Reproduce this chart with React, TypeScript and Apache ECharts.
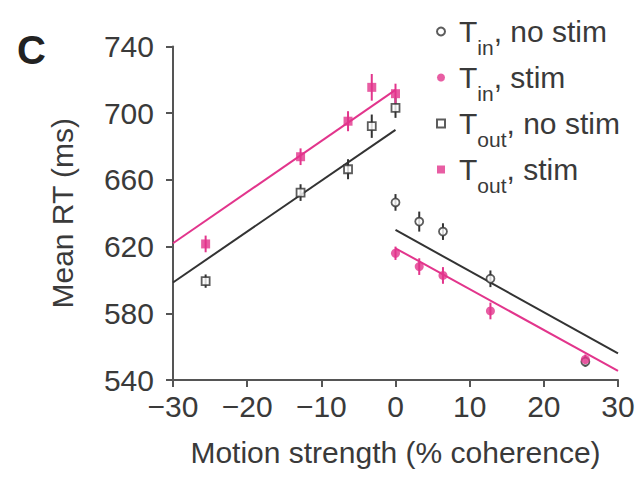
import { useEffect, useRef } from 'react';
import * as echarts from 'echarts';

// Motion strength (% coherence)
const coherenceOut = [-25.6, -12.8, -6.4, -3.2, 0];
const coherenceIn = [0, 3.2, 6.4, 12.8, 25.6];

// Mean RT (ms) and error bars (ms)
const toutNoStim = [599.3, 652.4, 666.4, 692.2, 703.2];
const toutNoStimErr = [4, 5, 6, 7, 6];
const toutStim = [621.6, 673.9, 695.2, 715.5, 711.7];
const toutStimErr = [5, 5, 6, 8, 6];
const tinNoStim = [646.5, 635, 629, 600.7, 551];
const tinNoStimErr = [5, 6, 5, 5, 3];
const tinStim = [616, 608, 602.7, 581.4, 552.3];
const tinStimErr = [4, 5, 5, 5, 3];

// Regression fits
const fitOutX = [-30, 0];
const fitOutNoStimY = [598.5, 690];
const fitOutStimY = [622, 714];
const fitInX = [0, 30];
const fitInNoStimY = [630, 556];
const fitInStimY = [619, 545.5];

const xTicks = { min: -30, max: 30, interval: 10 };
const yTicks = { min: 540, max: 740, interval: 40 };

const seriesNames = ['Tin, no stim', 'Tin, stim', 'Tout, no stim', 'Tout, stim'];
const legendLabels: Record<string, string> = {
  'Tin, no stim': '{t|T}{s|in}{u|, no stim}',
  'Tin, stim': '{t|T}{s|in}{u|, stim}',
  'Tout, no stim': '{t|T}{s|out}{u|, no stim}',
  'Tout, stim': '{t|T}{s|out}{u|, stim}',
};

const BLACK = '#333333';
const MAGENTA = '#e2358c';
const FONT = '"Liberation Sans", Arial, Helvetica, sans-serif';

const pairs = (xs: number[], ys: number[]) => xs.map((x, i) => [x, ys[i]]);
const errPairs = (xs: number[], ys: number[], es: number[]) =>
  xs.map((x, i) => [x, ys[i] - es[i], ys[i] + es[i]]);

function errorSeries(data: number[][], color: string) {
  return {
    type: 'custom',
    silent: true,
    z: 3,
    encode: { x: 0, y: [1, 2] },
    data,
    renderItem: (_params: any, api: any) => {
      const x = api.value(0);
      const p1 = api.coord([x, api.value(1)]);
      const p2 = api.coord([x, api.value(2)]);
      return {
        type: 'line',
        shape: { x1: p1[0], y1: p1[1], x2: p2[0], y2: p2[1] },
        style: { stroke: color, lineWidth: 2 },
      };
    },
  };
}

function fitSeries(name: string, xs: number[], ys: number[], color: string) {
  return {
    name,
    type: 'line',
    data: pairs(xs, ys),
    symbol: 'none',
    silent: true,
    z: 2,
    lineStyle: { color, width: 2 },
  };
}

export default function App() {
  const ref = useRef<HTMLDivElement>(null);

  useEffect(() => {
    if (!ref.current) return;
    const chart = echarts.init(ref.current, null, { renderer: 'svg' });
    const fmt = (v: number) => (v < 0 ? '\u2212' + Math.abs(v) : String(v));
    const txt = { fontFamily: FONT, color: '#3a3a3a' };
    chart.setOption({
      animation: false,
      backgroundColor: '#ffffff',
      textStyle: { fontFamily: FONT },
      grid: { left: 173, right: 23, top: 46.5, bottom: 97 },
      graphic: [
        {
          type: 'text',
          left: 17,
          top: 30,
          style: {
            text: 'C',
            font: 'bold 40px ' + FONT,
            fill: '#222',
          },
        },
      ],
      legend: {
        orient: 'vertical',
        left: 431,
        top: 0,
        itemWidth: 8,
        itemHeight: 8,
        itemGap: -7,
        selectedMode: false,
        data: seriesNames,
        formatter: (name: string) => legendLabels[name],
        textStyle: {
          color: '#3a3a3a',
          rich: {
            t: { ...txt, fontSize: 30, lineHeight: 34, verticalAlign: 'middle', padding: [0, 0, 0, 9] },
            u: { ...txt, fontSize: 30, lineHeight: 34, verticalAlign: 'middle' },
            s: { ...txt, fontSize: 21, lineHeight: 14, padding: [32, 0, 0, 0], verticalAlign: 'middle' },
          },
        },
      },
      xAxis: {
        type: 'value',
        ...xTicks,
        name: 'Motion strength (% coherence)',
        nameLocation: 'middle',
        nameGap: 57,
        nameTextStyle: { fontSize: 30, ...txt },
        splitLine: { show: false },
        axisLine: { show: true, onZero: false, lineStyle: { color: '#555', width: 2 } },
        axisTick: { show: true, length: 7, lineStyle: { color: '#555', width: 2 } },
        axisLabel: { fontSize: 30, margin: 11, formatter: fmt, ...txt },
      },
      yAxis: {
        type: 'value',
        ...yTicks,
        name: 'Mean RT (ms)',
        nameLocation: 'middle',
        nameGap: 96,
        nameTextStyle: { fontSize: 30, ...txt },
        splitLine: { show: false },
        axisLine: { show: true, onZero: false, lineStyle: { color: '#555', width: 2 } },
        axisTick: { show: true, length: 7, lineStyle: { color: '#555', width: 2 } },
        axisLabel: { fontSize: 30, margin: 19, ...txt },
      },
      series: [
        fitSeries('fit Tout, no stim', fitOutX, fitOutNoStimY, BLACK),
        fitSeries('fit Tout, stim', fitOutX, fitOutStimY, MAGENTA),
        fitSeries('fit Tin, no stim', fitInX, fitInNoStimY, BLACK),
        fitSeries('fit Tin, stim', fitInX, fitInStimY, MAGENTA),
        errorSeries(errPairs(coherenceOut, toutNoStim, toutNoStimErr), BLACK),
        errorSeries(errPairs(coherenceOut, toutStim, toutStimErr), MAGENTA),
        errorSeries(errPairs(coherenceIn, tinNoStim, tinNoStimErr), BLACK),
        errorSeries(errPairs(coherenceIn, tinStim, tinStimErr), MAGENTA),
        {
          name: 'Tin, no stim',
          type: 'scatter',
          symbol: 'circle',
          symbolSize: 8,
          z: 5,
          data: pairs(coherenceIn, tinNoStim),
          itemStyle: { color: '#ffffff', borderColor: BLACK, borderWidth: 1.8 },
        },
        {
          name: 'Tin, stim',
          type: 'scatter',
          symbol: 'circle',
          symbolSize: 9,
          z: 6,
          data: pairs(coherenceIn, tinStim),
          itemStyle: { color: MAGENTA },
        },
        {
          name: 'Tout, no stim',
          type: 'scatter',
          symbol: 'rect',
          symbolSize: 8,
          z: 5,
          data: pairs(coherenceOut, toutNoStim),
          itemStyle: { color: '#ffffff', borderColor: BLACK, borderWidth: 1.8 },
        },
        {
          name: 'Tout, stim',
          type: 'scatter',
          symbol: 'rect',
          symbolSize: 9,
          z: 6,
          data: pairs(coherenceOut, toutStim),
          itemStyle: { color: MAGENTA },
        },
      ],
    });
    return () => chart.dispose();
  }, []);

  return <div ref={ref} style={{ width: 641, height: 477, position: 'absolute', left: 0, top: 0 }} />;
}
